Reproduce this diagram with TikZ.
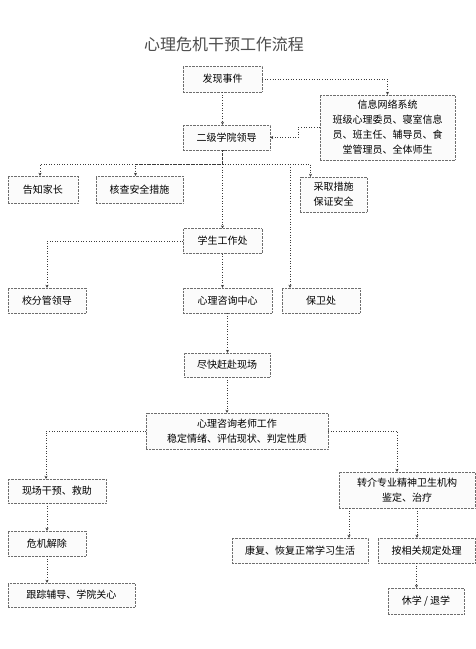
\documentclass[tikz,border=0pt]{standalone}
\usepackage{fontspec}
\usepackage{tikz}
\usetikzlibrary{arrows.meta}
\newfontfamily\cjk{Noto Sans CJK SC}
\definecolor{boxgray}{RGB}{110,110,110}
\definecolor{linegray}{RGB}{60,60,60}

\begin{document}
\begin{tikzpicture}[
      x=1pt, y=-1pt,
      box/.style      = {draw=boxgray, densely dotted, fill=gray!3, minimum height=25pt,
                         align=center, inner sep=2pt,
                         font=\cjk\fontsize{10}{15}\selectfont},
      title/.style    = {font=\cjk\fontsize{16}{18}\selectfont, text=black!70},
      arrow/.style    = {-{Stealth[length=3pt, width=3pt]}, dotted, semithick, color=linegray}
    ]
    \useasboundingbox (0,0) rectangle (476,649);

    % Nodes
    \node[title] (head) at (224,44) {心理危机干预工作流程};
    \node[box, minimum width=79pt, minimum height=26pt] (find) at (222.5,79) {发现事件};
    \node[box, minimum width=87pt] (college) at (226.5,137.5) {二级学院领导};
    \node[box, minimum width=135pt, minimum height=65pt] (info) at (387.5,127.5)
        {信息网络系统\\班级心理委员、寝室信息\\员、班主任、辅导员、食\\堂管理员、全体师生};
    \node[box, minimum width=70pt, minimum height=27pt] (parents) at (43,189.5) {告知家长};
    \node[box, minimum width=87pt, minimum height=27pt] (check) at (139.5,189.5) {核查安全措施};
    \node[box, minimum width=67pt, minimum height=35pt, align=left] (measure) at (333.5,194.5) {采取措施\\保证安全};
    \node[box, minimum width=79pt] (office) at (222.5,241) {学生工作处};
    \node[box, minimum width=78pt] (leader) at (47,300.5) {校分管领导};
    \node[box, minimum width=89pt] (center) at (227.5,300.5) {心理咨询中心};
    \node[box, minimum width=78pt] (security) at (321,300.5) {保卫处};
    \node[box, minimum width=86pt, minimum height=24pt] (rush) at (227,365) {尽快赶赴现场};
    \node[box, minimum width=182pt, minimum height=36pt] (teacher) at (237,431)
        {心理咨询老师工作\\稳定情绪、评估现状、判定性质};
    \node[box, minimum width=98pt, minimum height=24pt] (rescue) at (57,491) {现场干预、救助};
    \node[box, minimum width=136pt, minimum height=36pt] (refer) at (407,490)
        {转介专业精神卫生机构\\鉴定、治疗};
    \node[box, minimum width=78pt] (relief) at (47,543.5) {危机解除};
    \node[box, minimum width=136pt] (rehab) at (300,550.5) {康复、恢复正常学习生活};
    \node[box, minimum width=97pt] (handle) at (426.5,550.5) {按相关规定处理};
    \node[box, minimum width=127pt, minimum height=24pt] (follow) at (71.5,595) {跟踪辅导、学院关心};
    \node[box, minimum width=76pt, minimum height=26pt] (suspend) at (426,601) {休学 / 退学};

    % Relationships
    \draw[arrow] (find.south) -- (find.south |- college.north);
    \draw[arrow] (find.east) -| (info.north);
    \draw[arrow] (info.west) -- ++(-22,0) |- (college.east);
    \draw[arrow] (college.south) -- (college.south -| office.north) -- (office.north);
    \draw[arrow] (college.south) ++(-4,0) -- ++(0,14) -| ([xshift=-3pt]parents.north);
    \draw[arrow] (college.south) ++(-4,14) -| ([xshift=-4pt]check.north);
    \draw[arrow] (college.south) ++(-4,14) -| ([xshift=-23pt]measure.north);
    \draw[arrow] (college.south) ++(-4,14) -| ([xshift=-31pt]security.north);
    \draw[arrow] (office.west) -| (leader.north);
    \draw[arrow] (office.south) -- (office.south |- center.north);
    \draw[arrow] (center.south) -- (center.south |- rush.north);
    \draw[arrow] (rush.south) -- (rush.south |- teacher.north);
    \draw[arrow] (teacher.west) -| ([xshift=-11pt]rescue.north);
    \draw[arrow] (teacher.east) -| ([xshift=-10pt]refer.north);
    \draw[arrow] ([xshift=-10pt]rescue.south) -- (relief.north);
    \draw[arrow] (relief.south) -- (relief.south |- follow.north);
    \draw[arrow] ([xshift=-58pt]refer.south) -- ([xshift=-58pt]refer.south |- rehab.north);
    \draw[arrow] ([xshift=10pt]refer.south) -- ([xshift=10pt]refer.south |- handle.north);
    \draw[arrow] ([xshift=-10pt]handle.south) -- ([xshift=-10pt]handle.south |- suspend.north);

  \end{tikzpicture}
\end{document}
